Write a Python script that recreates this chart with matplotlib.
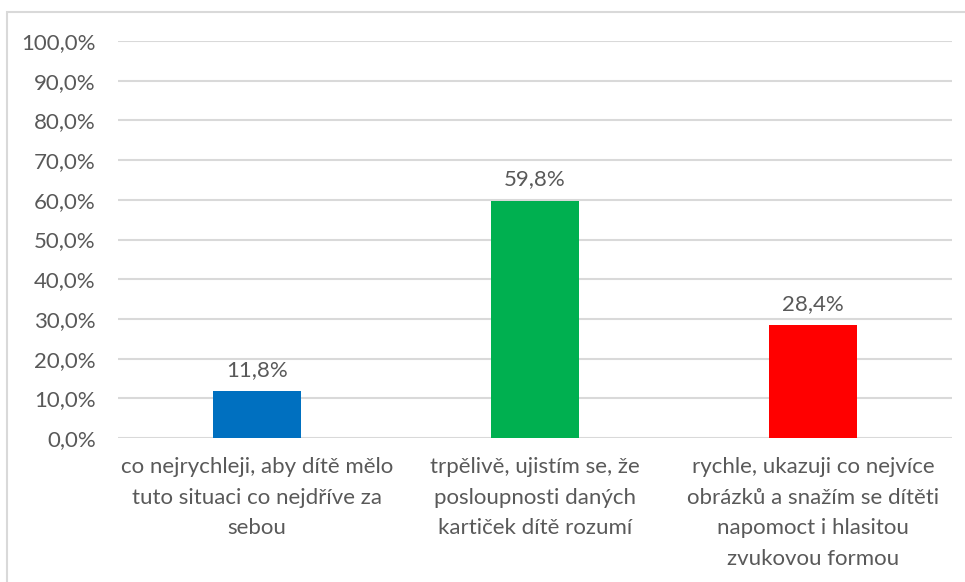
import matplotlib
matplotlib.use("Agg")
import matplotlib.pyplot as plt
from matplotlib.patches import Rectangle

categories = [
    "co nejrychleji, aby dítě mělo\ntuto situaci co nejdříve za\nsebou",
    "trpělivě, ujistím se, že\nposloupnosti daných\nkartiček dítě rozumí",
    "rychle, ukazuji co nejvíce\nobrázků a snažím se dítěti\nnapomoct i hlasitou\nzvukovou formou",
]
values = [11.8, 59.8, 28.4]
colors = ["#0070C0", "#00B050", "#FF0000"]
yticks = list(range(0, 101, 10))

plt.rcParams['font.family'] = ['Lato', 'DejaVu Sans']
txt = "#595959"
fs = 16

fig = plt.figure(figsize=(9.65, 5.82), dpi=100)
ax = fig.add_axes([118/965, 1-438/582, 834/965, 397/582])

x = list(range(len(values)))
ax.bar(x, values, width=0.313, color=colors, zorder=3)
ax.set_xlim(-0.5, 2.5)
ax.set_ylim(0, 100)
ax.set_yticks(yticks)
ax.set_yticklabels([f"{v:.1f}%".replace(".", ",") for v in yticks], color=txt, fontsize=fs)
ax.set_xticks(x)
ax.set_xticklabels(categories, color=txt, fontsize=fs, linespacing=1.65, va="top")
ax.tick_params(length=0, axis="both")
ax.tick_params(axis="y", pad=16)
ax.tick_params(axis="x", pad=14)
ax.grid(axis="y", color="#d9d9d9", linewidth=1.5, zorder=0)
for s in ax.spines.values():
    s.set_visible(False)

for xi, v in zip(x, values):
    ax.annotate(f"{v:.1f}%".replace(".", ","), (xi, v), xytext=(0, 8),
                textcoords="offset points", ha="center", va="bottom",
                color=txt, fontsize=fs)

fig.patches.append(Rectangle((7/965, -0.1), 1.2, 1-12/582+0.1, transform=fig.transFigure,
                             fill=False, edgecolor="#d9d9d9", linewidth=1.5))

fig.savefig("out.png", dpi=100)
